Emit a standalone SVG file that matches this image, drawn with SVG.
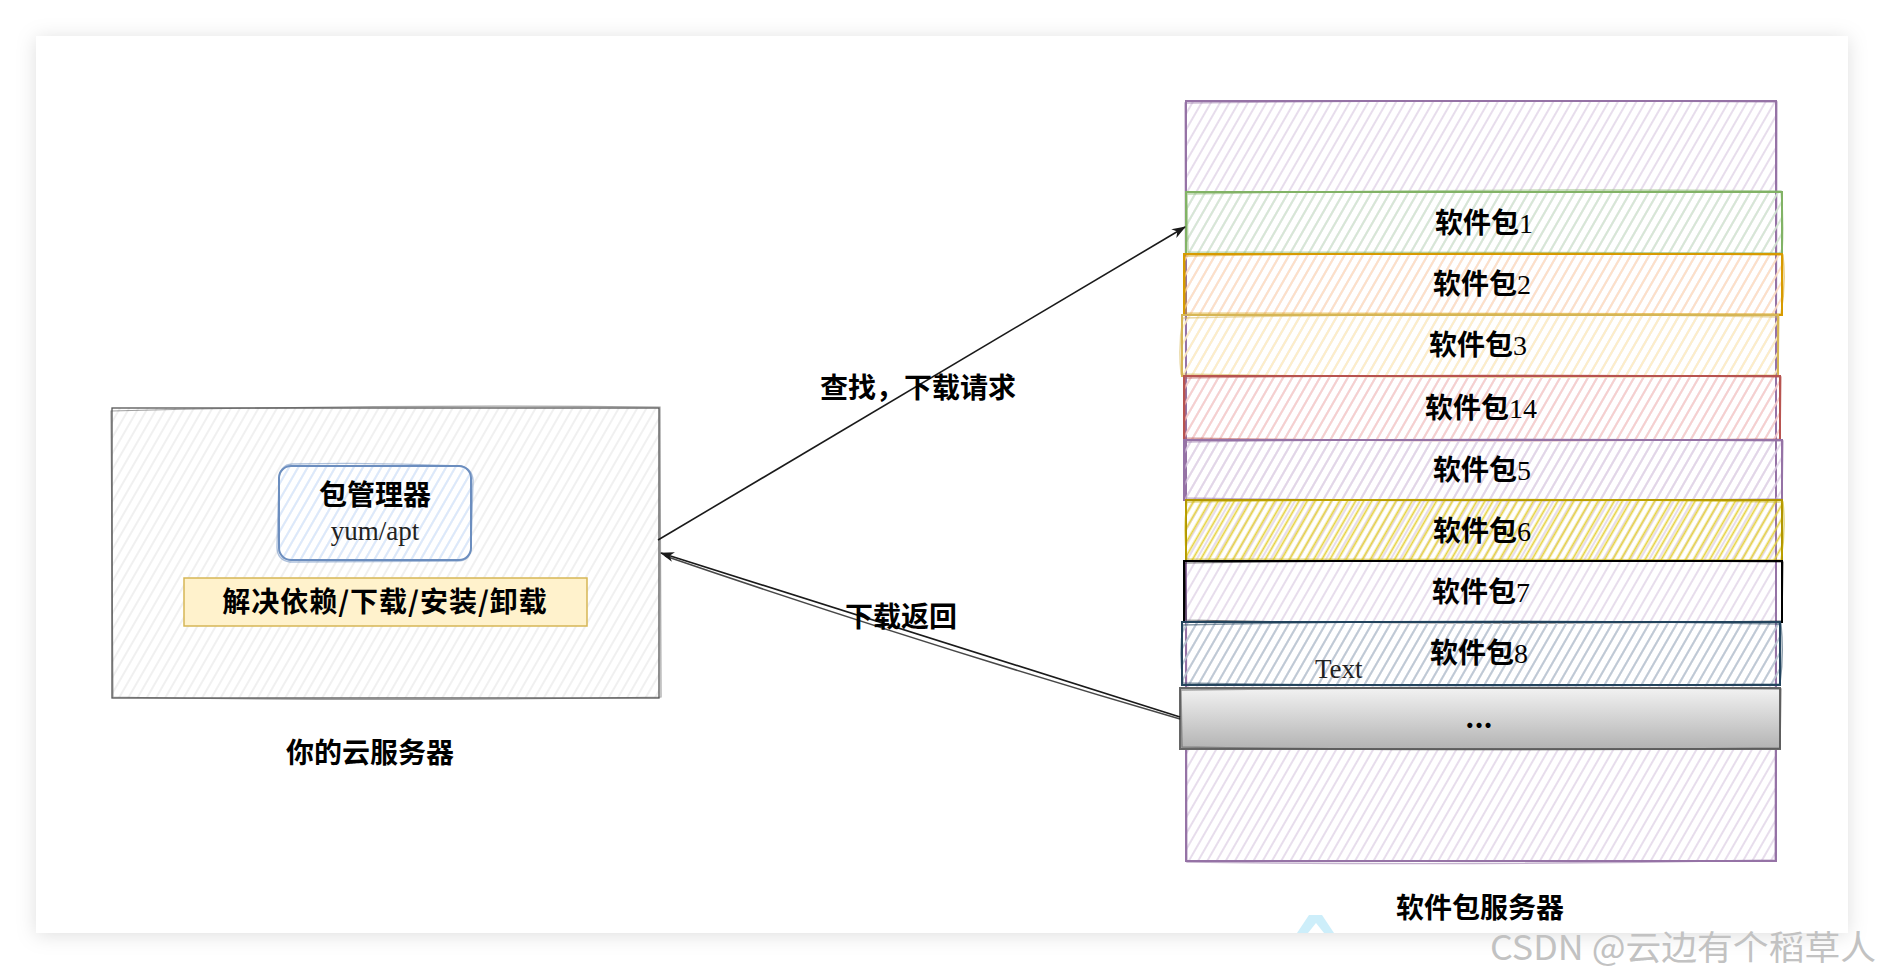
<svg xmlns="http://www.w3.org/2000/svg" width="1884" height="970" viewBox="0 0 1884 970">
<style>
.lbl{font-family:"Noto Sans CJK SC","Noto Sans",sans-serif;font-weight:700;font-size:28px;fill:#000;text-anchor:middle}
.num{font-family:"Liberation Serif",serif;font-weight:400}
.serif{font-family:"Liberation Serif",serif;font-size:27px;fill:#222}
.edge{fill:none;stroke:#1a1a1a;stroke-width:1.6}
.jit{fill:none;stroke-opacity:0.55}
</style>
<defs>
<filter id="shadow" x="-5%" y="-5%" width="110%" height="110%">
<feDropShadow dx="0" dy="2" stdDeviation="10" flood-color="#000" flood-opacity="0.13"/>
</filter>
<pattern id="h-purple" width="8" height="8" patternUnits="userSpaceOnUse" patternTransform="rotate(30)"><line x1="4" y1="0" x2="4" y2="8" stroke="#e1d5e7" stroke-width="1.6"/></pattern>
<pattern id="h-green" width="8" height="8" patternUnits="userSpaceOnUse" patternTransform="rotate(30)"><line x1="4" y1="0" x2="4" y2="8" stroke="#d5e8d4" stroke-width="1.8"/></pattern>
<pattern id="h-orange" width="8" height="8" patternUnits="userSpaceOnUse" patternTransform="rotate(30)"><line x1="4" y1="0" x2="4" y2="8" stroke="#ffe0c4" stroke-width="1.8"/></pattern>
<pattern id="h-yellow" width="8" height="8" patternUnits="userSpaceOnUse" patternTransform="rotate(30)"><line x1="4" y1="0" x2="4" y2="8" stroke="#fff0c4" stroke-width="1.8"/></pattern>
<pattern id="h-red" width="8" height="8" patternUnits="userSpaceOnUse" patternTransform="rotate(30)"><line x1="4" y1="0" x2="4" y2="8" stroke="#f8cecc" stroke-width="1.8"/></pattern>
<pattern id="h-gold" width="7" height="7" patternUnits="userSpaceOnUse" patternTransform="rotate(30)"><line x1="3.5" y1="0" x2="3.5" y2="7" stroke="#e6d240" stroke-width="1.8"/></pattern>
<pattern id="h-navy" width="8" height="8" patternUnits="userSpaceOnUse" patternTransform="rotate(30)"><line x1="4" y1="0" x2="4" y2="8" stroke="#bac8d3" stroke-width="1.8"/></pattern>
<pattern id="h-gray" width="8" height="8" patternUnits="userSpaceOnUse" patternTransform="rotate(30)"><line x1="4" y1="0" x2="4" y2="8" stroke="#ececec" stroke-width="1.6"/></pattern>
<pattern id="h-blue" width="8" height="8" patternUnits="userSpaceOnUse" patternTransform="rotate(30)"><line x1="4" y1="0" x2="4" y2="8" stroke="#dae8fc" stroke-width="1.8"/></pattern>
<linearGradient id="g-gray" x1="0" y1="0" x2="0" y2="1">
<stop offset="0" stop-color="#f2f2f2"/>
<stop offset="1" stop-color="#b3b3b3"/>
</linearGradient>
<marker id="arrow" viewBox="0 0 14 10" markerWidth="14" markerHeight="10" refX="13" refY="5" orient="auto" markerUnits="userSpaceOnUse">
<path d="M0,0 L14,5 L0,10 L4,5 Z" fill="#1a1a1a"/>
</marker>
</defs>

<rect x="0" y="0" width="1884" height="970" fill="#ffffff"/>
<rect id="card" x="36" y="36" width="1812" height="897" fill="#ffffff" filter="url(#shadow)"/>

<g id="cloud-server">
<rect x="112" y="408" width="547" height="290" fill="url(#h-gray)" stroke="#555" stroke-width="1.3"/>
<path class="jit" stroke="#555" stroke-width="1.2" d="M111,411 Q385,404 660,407 L661,697 Q385,702 113,697 Z"/>
</g>

<g id="pkg-manager">
<rect x="279" y="466" width="192" height="94" rx="12" fill="url(#h-blue)" stroke="#6c8ebf" stroke-width="2"/>
<path class="jit" stroke="#6c8ebf" stroke-width="1.4" d="M292,464 Q375,462 460,466 Q472,468 473,480 L471,548 Q470,562 456,561 L290,562 Q277,560 277,547 L279,479 Q280,465 292,464 Z"/>
<text class="lbl" x="375" y="505" font-size="29">包管理器</text>
<text class="serif" x="375" y="540" text-anchor="middle" font-size="28" fill="#111">yum/apt</text>
</g>

<g id="functions">
<rect x="184" y="578" width="403" height="48" fill="#fff2cc" stroke="#d6b656" stroke-width="1.5"/>
<text class="lbl" x="385" y="612" font-size="29" letter-spacing="1">解决依赖/下载/安装/卸载</text>
</g>

<text id="cloud-label" class="lbl" x="370" y="763">你的云服务器</text>

<g id="repo-server">
<rect x="1186" y="101" width="590" height="760" fill="url(#h-purple)" stroke="#9673a6" stroke-width="2"/>
<path class="jit" stroke="#9673a6" stroke-width="1.4" d="M1185,103 Q1480,99 1777,102 L1775,860 Q1480,866 1187,862 Z"/>
</g>

<g id="pkg1">
<rect x="1186" y="192" width="596" height="62" fill="url(#h-green)" stroke="#82b366" stroke-width="2"/>
<path class="jit" stroke="#82b366" stroke-width="1.4" d="M1187,194 Q1480,188 1781,191 Q1784,222 1782,253 L1188,252 Z"/>
<text class="lbl" x="1484" y="233">软件包<tspan class="num">1</tspan></text>
</g>

<g id="pkg2">
<rect x="1184" y="254" width="598" height="61" fill="url(#h-orange)" stroke="#d79b00" stroke-width="2"/>
<path class="jit" stroke="#d79b00" stroke-width="1.4" d="M1185,256 Q1480,251 1783,255 Q1786,285 1781,314 L1186,313 Z"/>
<text class="lbl" x="1482" y="294">软件包<tspan class="num">2</tspan></text>
</g>

<g id="pkg3">
<rect x="1182" y="315" width="596" height="61" fill="url(#h-yellow)" stroke="#d6b656" stroke-width="2"/>
<path class="jit" stroke="#d6b656" stroke-width="1.4" d="M1183,318 Q1480,311 1779,317 L1778,375 Q1480,380 1181,374 Q1178,345 1183,318 Z"/>
<text class="lbl" x="1478" y="355">软件包<tspan class="num">3</tspan></text>
</g>

<g id="pkg14">
<rect x="1184" y="376" width="596" height="64" fill="url(#h-red)" stroke="#b85450" stroke-width="2"/>
<path class="jit" stroke="#b85450" stroke-width="1.4" d="M1185,378 Q1480,373 1781,377 L1780,439 Q1480,443 1185,438 Z"/>
<text class="lbl" x="1481" y="418">软件包<tspan class="num">14</tspan></text>
</g>

<g id="pkg5">
<rect x="1184" y="440" width="598" height="60" fill="url(#h-purple)" stroke="#9673a6" stroke-width="2"/>
<path class="jit" stroke="#9673a6" stroke-width="1.4" d="M1185,442 Q1480,437 1783,441 L1782,499 Q1480,503 1186,498 Z"/>
<text class="lbl" x="1482" y="480">软件包<tspan class="num">5</tspan></text>
</g>

<g id="pkg6">
<rect x="1186" y="500" width="596" height="61" fill="url(#h-gold)" stroke="#b09500" stroke-width="2"/>
<path class="jit" stroke="#c8ae00" stroke-width="1.4" d="M1187,502 Q1480,497 1783,502 Q1786,531 1781,560 L1187,559 Q1183,530 1187,502 Z"/>
<text class="lbl" x="1482" y="541">软件包<tspan class="num">6</tspan></text>
</g>

<g id="pkg7">
<rect x="1184" y="561" width="598" height="61" fill="none" stroke="#000" stroke-width="2"/>
<path class="jit" stroke="#000" stroke-width="1.2" d="M1185,563 Q1480,559 1783,562 L1782,621 Q1480,626 1186,620 Z"/>
<text class="lbl" x="1481" y="602">软件包<tspan class="num">7</tspan></text>
</g>

<g id="pkg8">
<rect x="1182" y="622" width="598" height="63" fill="url(#h-navy)" stroke="#23445d" stroke-width="2"/>
<path class="jit" stroke="#23445d" stroke-width="1.4" d="M1183,625 Q1480,618 1781,624 Q1784,654 1780,684 Q1480,688 1183,683 Q1179,653 1183,625 Z"/>
<text class="lbl" x="1479" y="663">软件包<tspan class="num">8</tspan></text>
<text class="serif" x="1315" y="678" font-size="28" fill="#333">Text</text>
</g>

<g id="pkg-more">
<rect x="1180" y="688" width="600" height="61" fill="url(#g-gray)" stroke="#666" stroke-width="2"/>
<path class="jit" stroke="#555" stroke-width="1.4" d="M1181,690 Q1480,686 1781,689 L1780,748 Q1480,752 1182,747 Z"/>
<text class="lbl" x="1479" y="728" font-weight="400">...</text>
</g>

<text id="repo-label" class="lbl" x="1480" y="918">软件包服务器</text>

<g id="connectors">
<path class="edge" d="M658,540 L1185,227" marker-end="url(#arrow)"/>
<path class="edge" d="M1180,717 L661,553" marker-end="url(#arrow)"/>
<path class="edge" stroke-width="1.1" stroke-opacity="0.8" d="M1180,719 Q925,645 665,556"/>
<text class="lbl" x="918" y="398">查找，下载请求</text>
<text class="lbl" x="901" y="627">下载返回</text>
</g>

<polygon points="1309,915 1322,915 1334,933 1324,933 1316,923 1308,933 1297,933" fill="#cdeefa"/>
<text x="1490" y="960" font-family="Noto Sans CJK SC, Liberation Sans, sans-serif" font-size="34" fill="#c2c2c2" textLength="386" lengthAdjust="spacingAndGlyphs">CSDN @云边有个稻草人</text>
</svg>
